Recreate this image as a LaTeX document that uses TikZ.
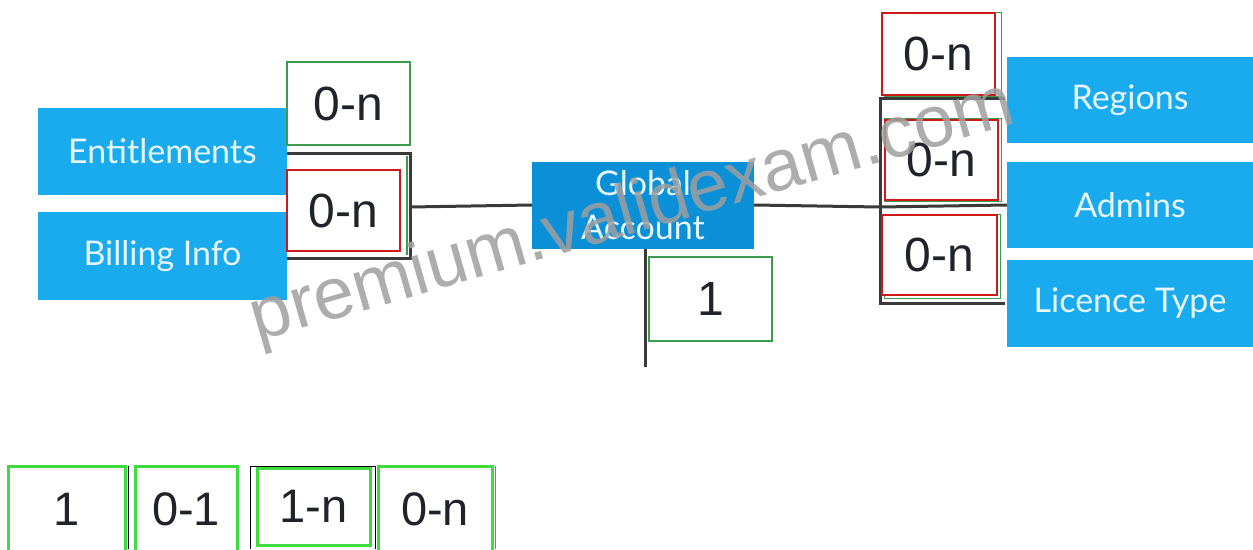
\documentclass[tikz,border=0pt]{standalone}
\usepackage{fontspec}
\setmainfont{Liberation Sans}
\newfontfamily\entityfont{Lato}
\usetikzlibrary{positioning}

\definecolor{entityblue}{HTML}{1AAAEE}
\definecolor{rootblue}{HTML}{0B90D8}
\definecolor{entitytext}{HTML}{E6F7FF}
\definecolor{linkgray}{HTML}{3A3A3A}
\definecolor{cardgreen}{HTML}{3A9C4C}
\definecolor{cardred}{HTML}{CC1A1A}
\definecolor{keygreen}{HTML}{3EDC3E}
\definecolor{digitgray}{HTML}{20242A}

\begin{document}
\begin{tikzpicture}[
    x=1pt,y=-1pt,
    entity/.style={fill=entityblue,text=entitytext,inner sep=0pt,
      minimum width=249pt,minimum height=87pt,align=center,
      font=\entityfont\fontsize{34}{44}\selectfont},
    card/.style={fill=white,inner sep=0pt,line width=1.6pt,text=digitgray,
      font=\fontsize{48}{50}\selectfont},
    keycard/.style={card,draw=keygreen,line width=3pt,
      font=\fontsize{47}{50}\selectfont},
    link/.style={draw=linkgray,line width=3pt}]
  \useasboundingbox (0,0) rectangle (1253,549);

  % entities
  \node[entity] (entitlements) at (162.5,151.5) {Entitlements};
  \node[entity,minimum height=88pt] (billing) at (162.5,256) {Billing Info};
  \node[entity,fill=rootblue,minimum width=222pt,minimum height=87pt] (account) at (643,205) {Global\\Account};
  \node[entity,minimum width=246pt,minimum height=86pt] (regions) at (1130,100) {Regions};
  \node[entity,minimum width=246pt,minimum height=86pt] (admins) at (1130,205) {Admins};
  \node[entity,minimum width=246pt,minimum height=87pt] (licence) at (1130,303.5) {Licence Type};

  % left bracket
  \coordinate (lt) at (287,153);
  \coordinate (ltr) at (410,153);
  \coordinate (lbr) at (410,258);
  \coordinate (lb) at (287,258);
  \coordinate (lmid) at (410,207);
  \draw[link] (lt) -- (ltr) -- (lbr) -- (lb);
  \draw[cardgreen,line width=1.2pt] (407,156) -- (407,255);
  \draw[link] (lmid) -- (account.west);

  % right bracket
  \coordinate (rt) at (1005,98);
  \coordinate (rtl) at (880,98);
  \coordinate (rbl) at (880,303);
  \coordinate (rb) at (1005,303);
  \coordinate (rmid) at (880,207);
  \draw[link] (rt) -- (rtl) -- (rbl) -- (rb);
  \draw[link] (rmid) -- (admins.west);
  \draw[link] (account.east) -- (rmid);

  % down from account
  \coordinate (down) at (645,367);
  \draw[link] (account.south -| down) -- (down);

  % cardinalities
  \node[card,draw=cardgreen,minimum width=123pt,minimum height=83pt] (entcard) at (348.5,103.5) {0-n};
  \node[card,draw=cardred,minimum width=113pt,minimum height=81pt] (billcard) at (343.5,210.5) {0-n};
  \node[card,draw=cardgreen,minimum width=123pt,minimum height=84pt] (acccard) at (710.5,299) {1};
  \draw[cardgreen,line width=1pt] (884,12) rectangle (1001,96);
  \node[card,draw=cardred,minimum width=113pt,minimum height=82pt] (regcard) at (938.5,54) {0-n};
  \draw[cardgreen,line width=1pt] (884,118) rectangle (1001,201);
  \node[card,draw=cardred,minimum width=113pt,minimum height=80pt] (admcard) at (941.5,160) {0-n};
  \draw[cardgreen,line width=1pt] (884,214) rectangle (1000,298);
  \node[card,draw=cardred,minimum width=115pt,minimum height=80pt] (liccard) at (939.5,255) {0-n};

  % legend
  \draw[black,line width=1pt] (128,466) -- (128,549);
  \draw[black,line width=1pt] (250,549) -- (250,466) -- (375,466) -- (375,549);
  \draw[gray,line width=1pt] (495,466) -- (495,549);
  \node[keycard,minimum width=117pt,minimum height=86pt] (one) at (66.5,509) {1};
  \node[keycard,minimum width=102pt,minimum height=86pt] (zeroone) at (186,509) {0-1};
  \node[keycard,minimum width=113pt,minimum height=77pt] (onen) at (313.5,506.5) {1-n};
  \node[keycard,minimum width=114pt,minimum height=86pt] (zeron) at (435,509.5) {0-n};

  % watermark
  \node[text=gray!75,opacity=0.85,rotate=16,font=\fontsize{73}{73}\selectfont] (mark) at (633,214) {premium.validexam.com};
\end{tikzpicture}
\end{document}
